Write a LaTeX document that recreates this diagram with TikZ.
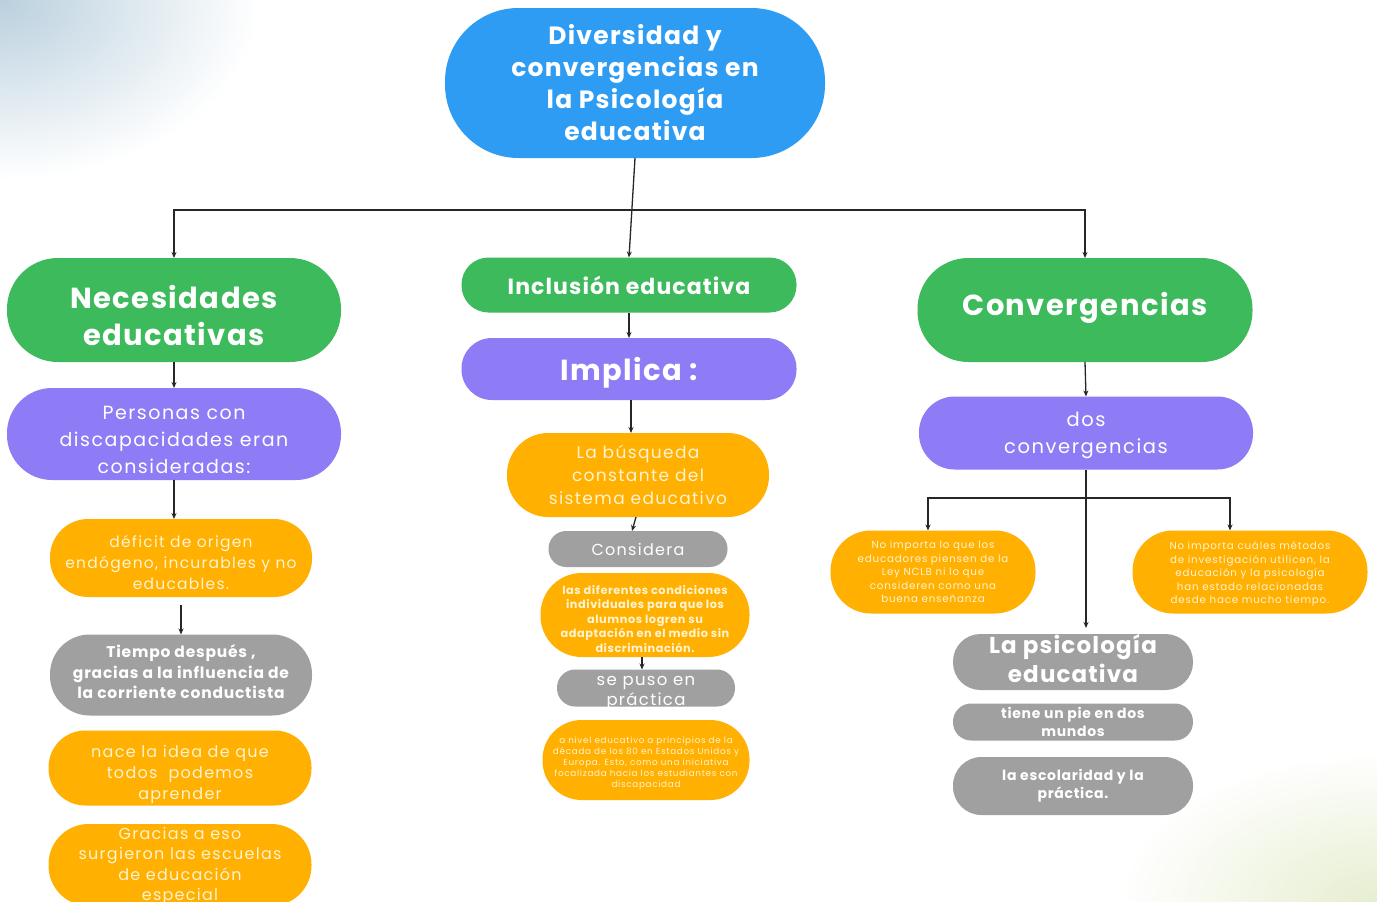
\documentclass[tikz,border=0pt]{standalone}
\usepackage{fontspec}
\setmainfont{Poppins}
\newfontfamily\lsfont[LetterSpace=8.0]{Poppins}
\newfontfamily\lsbf[LetterSpace=5.0]{Poppins}
\usetikzlibrary{arrows.meta}
\definecolor{cblue}{RGB}{46,156,242}
\definecolor{cgreen}{RGB}{61,186,92}
\definecolor{cpurple}{RGB}{141,124,245}
\definecolor{corange}{RGB}{255,176,0}
\definecolor{cgray}{RGB}{160,160,160}
\definecolor{cream}{RGB}{255,243,210}
\definecolor{bgblue}{RGB}{186,208,222}
\definecolor{bggreen}{RGB}{230,238,208}
\tikzset{
  box/.style={draw=none,inner sep=0pt,outer sep=0pt},
  txt/.style={align=center,text=white,inner sep=0pt},
  arr/.style={draw=black!85,line width=1.3pt,-{Stealth[length=6pt,width=5pt]}},
}
% name, colour, x, y, w, h, text options, text
\newcommand{\pillbox}[8]{%
  \node[box,fill=#2,minimum width=#5,minimum height=#6,rounded corners={0.49*#6}] (#1) at (#3,#4) {};
  \node[txt,#7] (#1t) at (#1.center) {#8};}
\begin{document}
\begin{tikzpicture}[x=1pt,y=-1pt]
\useasboundingbox (0,0) rectangle (1377,902);
\begin{scope}
\clip (0,0) rectangle (1377,902);
\fill[white] (0,0) rectangle (1377,902);
\shade[inner color=bgblue,outer color=white] (0,0) ellipse (260 and 180);
\shade[inner color=bggreen,outer color=white] (1377,902) ellipse (260 and 150);

% top
\pillbox{title}{cblue}{635}{83}{380}{150}{font=\lsbf\bfseries\fontsize{25}{32}\selectfont}{Diversidad y\\convergencias en\\la Psicología\\educativa}

% level 1
\pillbox{nec}{cgreen}{174}{310}{334}{104}{yshift=-5pt,font=\lsbf\bfseries\fontsize{29}{37}\selectfont}{Necesidades\\educativas}
\pillbox{inc}{cgreen}{629}{285}{335}{55}{font=\lsbf\bfseries\fontsize{22}{26}\selectfont}{Inclusión educativa}
\pillbox{conv}{cgreen}{1085}{310}{335}{104}{yshift=2pt,font=\lsbf\bfseries\fontsize{29}{36}\selectfont}{Convergencias}

% left column
\pillbox{per}{cpurple}{174}{434}{334}{92}{yshift=-6pt,font=\lsfont\fontsize{19}{27}\selectfont}{Personas con\\discapacidades eran\\consideradas:}
\pillbox{def}{corange}{181}{558}{262}{78}{yshift=-5pt,font=\lsfont\fontsize{15.5}{21}\selectfont,text=cream}{déficit de origen\\endógeno, incurables y no\\educables.}
\pillbox{tiem}{cgray}{181}{675}{262}{81}{yshift=3pt,font=\lsbf\bfseries\fontsize{15.5}{20.5}\selectfont}{Tiempo después ,\\gracias a la influencia de\\la corriente conductista}
\pillbox{nace}{corange}{180}{768}{263}{75}{yshift=-6pt,font=\lsfont\fontsize{16}{21}\selectfont,text=cream}{nace la idea de que\\todos~ podemos\\aprender}
\pillbox{grac}{corange}{180}{865}{263}{82}{yshift=-1pt,font=\lsfont\fontsize{16}{20.5}\selectfont,text=cream}{Gracias a eso\\surgieron las escuelas\\de educación\\especial}

% middle column
\pillbox{impl}{cpurple}{629}{369}{335}{62}{yshift=-4pt,font=\lsbf\bfseries\fontsize{29}{34}\selectfont}{Implica :}
\pillbox{busq}{corange}{638}{475}{262}{84}{font=\lsfont\fontsize{17}{23}\selectfont,text=cream}{La búsqueda\\constante del\\sistema educativo}
\pillbox{cons}{cgray}{638}{549}{179}{36}{font=\lsfont\fontsize{16}{20}\selectfont}{Considera}
\pillbox{dif}{corange}{645}{615}{209}{84}{yshift=-4pt,font=\lsbf\bfseries\fontsize{11.3}{14.5}\selectfont,text=cream}{las diferentes condiciones\\individuales para que los\\alumnos logren su\\adaptación en el medio sin\\discriminación.}
\pillbox{puso}{cgray}{646}{688}{178}{37}{yshift=-5pt,font=\lsfont\fontsize{16.5}{20}\selectfont}{se puso en\\práctica}
\pillbox{niv}{corange}{646}{760}{207}{80}{yshift=-3pt,font=\lsfont\fontsize{8.8}{11}\selectfont,text=cream}{a nivel educativo a principios de la\\década de los 80 en Estados Unidos y\\Europa. Esto, como una iniciativa\\focalizada hacia los estudiantes con\\discapacidad}

% right column
\pillbox{dos}{cpurple}{1086}{433}{334}{73}{yshift=-2pt,font=\lsfont\fontsize{19.5}{27}\selectfont}{dos\\convergencias}
\pillbox{ncl}{corange}{933}{572}{205}{83}{font=\lsfont\fontsize{10.3}{13.5}\selectfont,text=cream}{No importa lo que los\\educadores piensen de la\\Ley NCLB ni lo que\\consideren como una\\buena enseñanza}
\pillbox{met}{corange}{1250}{572}{235}{83}{yshift=-2pt,font=\lsfont\fontsize{10.3}{13.5}\selectfont,text=cream}{No importa cuáles métodos\\de investigación utilicen, la\\educación y la psicología\\han estado relacionadas\\desde hace mucho tiempo.}
\pillbox{psi}{cgray}{1073}{662}{240}{56}{yshift=3pt,font=\lsbf\bfseries\fontsize{23}{29}\selectfont}{La psicología\\educativa}
\pillbox{pie}{cgray}{1073}{722}{240}{37}{font=\lsbf\bfseries\fontsize{14}{18}\selectfont}{tiene un pie en dos\\mundos}
\pillbox{esc}{cgray}{1073}{786}{240}{58}{font=\lsbf\bfseries\fontsize{14}{18}\selectfont}{la escolaridad y la\\práctica.}

% connectors
\coordinate (bar) at (634,210);
\draw[arr] (title.south) -- (inc.north);
\draw[arr] (bar) -| (nec.north);
\draw[arr] (bar) -| (conv.north);
\draw[arr] (nec.south) -- (per.north);
\draw[arr] (per.south) -- (per.south |- def.north);
\draw[arr] ([yshift=-8pt]def.south) -- (tiem.north);
\draw[arr] (inc.south) -- (impl.north);
\draw[arr] ([xshift=2pt]impl.south) -- ([xshift=2pt]impl.south |- busq.north);
\draw[arr] ([xshift=-2pt]busq.south) -- ([xshift=-6pt]cons.north);
\draw[arr] ([xshift=-3pt]dif.south) -- ([xshift=-4pt]puso.north);
\draw[arr] (conv.south) -- (dos.north);
\coordinate (bar2) at (1086,498);
\draw[arr] (dos.south) -- ([yshift=6pt]dos.south |- psi.north);
\draw[arr] (bar2) -| ([xshift=-5pt]ncl.north);
\draw[arr] (bar2) -| ([xshift=-20pt]met.north);
\end{scope}
\end{tikzpicture}
\end{document}
